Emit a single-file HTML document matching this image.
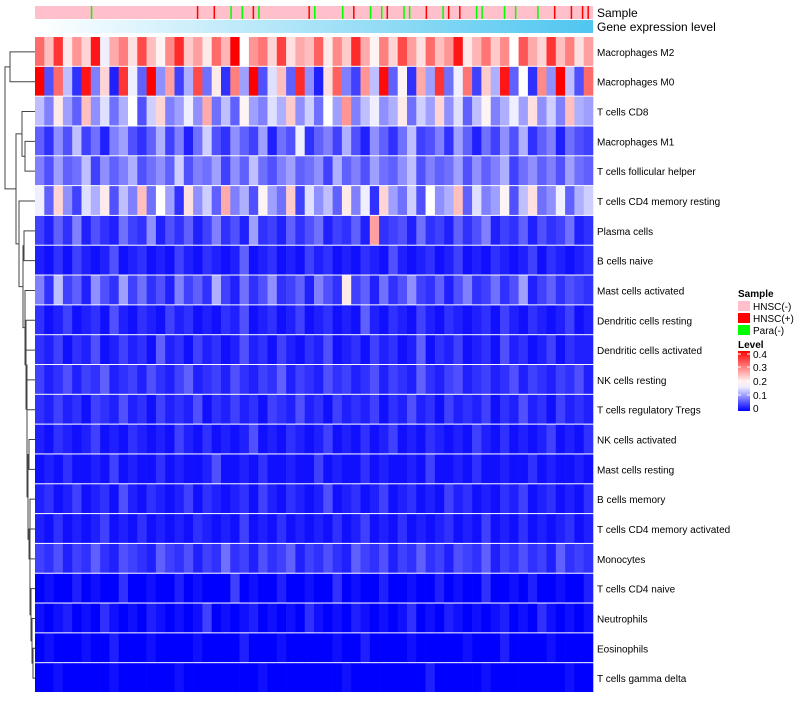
<!DOCTYPE html>
<html><head><meta charset="utf-8">
<style>
body{margin:0;background:#fff;width:800px;height:700px;overflow:hidden;font-family:"Liberation Sans",sans-serif;}
svg text{font-family:"Liberation Sans",sans-serif;}
</style></head>
<body>
<svg id="chart" width="800" height="700" xmlns="http://www.w3.org/2000/svg">
<defs>
<linearGradient id="geneGrad" x1="0" x2="1" y1="0" y2="0">
<stop offset="0" stop-color="#ffffff"/><stop offset="1" stop-color="#4fc6f0"/>
</linearGradient>
<linearGradient id="levelGrad" x1="0" x2="0" y1="1" y2="0">
<stop offset="0" stop-color="#0000ff"/><stop offset="0.4" stop-color="#eeeeff"/><stop offset="0.5" stop-color="#fff0ee"/><stop offset="1" stop-color="#ff0000"/>
</linearGradient>
</defs>
<g id="sample-bar"></g>
<rect x="35" y="20" width="558" height="13" fill="url(#geneGrad)"/>
<text x="597" y="17" font-size="12">Sample</text>
<text x="597" y="31" font-size="12">Gene expression level</text>
<g id="cells"></g>
<g id="labels"></g>
<g id="dendro" stroke="#444" stroke-width="1" fill="none"></g>
<g font-size="10">
<text x="738" y="297" font-weight="bold">Sample</text>
<rect x="738" y="301" width="12" height="10" fill="#ffc0cb"/>
<text x="753" y="310">HNSC(-)</text>
<rect x="738" y="313" width="12" height="10" fill="#ff0000"/>
<text x="753" y="322">HNSC(+)</text>
<rect x="738" y="325" width="12" height="10" fill="#00ff00"/>
<text x="753" y="334">Para(-)</text>
<text x="738" y="348" font-weight="bold">Level</text>
<rect x="738" y="351" width="12" height="60" fill="url(#levelGrad)"/>
<g stroke="#fff" stroke-width="1"><line x1="738" x2="741" y1="354" y2="354"/><line x1="747" x2="750" y1="354" y2="354"/><line x1="738" x2="741" y1="367" y2="367"/><line x1="747" x2="750" y1="367" y2="367"/><line x1="738" x2="741" y1="381" y2="381"/><line x1="747" x2="750" y1="381" y2="381"/><line x1="738" x2="741" y1="395" y2="395"/><line x1="747" x2="750" y1="395" y2="395"/></g>
<text x="753" y="358">0.4</text>
<text x="753" y="371">0.3</text>
<text x="753" y="385">0.2</text>
<text x="753" y="399">0.1</text>
<text x="753" y="412">0</text>
</g>
</svg>
<script>
const rowNames=["Macrophages M2","Macrophages M0","T cells CD8","Macrophages M1","T cells follicular helper","T cells CD4 memory resting","Plasma cells","B cells naive","Mast cells activated","Dendritic cells resting","Dendritic cells activated","NK cells resting","T cells regulatory  Tregs","NK cells activated","Mast cells resting","B cells memory","T cells CD4 memory activated","Monocytes","T cells CD4 naive","Neutrophils","Eosinophils","T cells gamma delta"];
// values in hundredths (0-40)
const r0=[30,22,35,18,26,20,38,15,24,28,19,33,22,17,27,36,21,25,18,30,23,40,16,26,29,20,34,19,24,22,31,18,27,21,36,24,17,28,20,33,25,19,30,22,26,38,18,23,29,21,27,16,32,24,20,35,22,28,19,25];
const r1=[40,5,30,12,3,38,8,20,2,35,15,6,40,9,25,4,11,33,7,18,3,28,10,40,5,14,22,6,36,9,2,19,31,8,4,26,12,39,6,17,3,24,10,35,7,15,29,4,21,11,38,6,16,3,27,9,40,12,5,30];
const r2=[12,8,18,10,6,22,9,14,7,11,16,5,13,20,8,10,15,9,24,7,12,6,17,10,8,14,11,21,9,13,7,16,10,26,8,12,15,9,11,18,7,13,10,20,9,14,6,12,17,8,11,15,10,19,9,13,8,22,11,10];
const r3=[6,3,9,5,12,4,7,2,8,10,5,3,6,11,4,8,2,7,13,5,3,9,6,4,10,2,7,5,15,3,6,8,4,11,5,2,9,6,3,7,12,4,5,8,3,10,6,2,7,4,9,5,11,3,6,8,2,7,5,4];
const r4=[8,5,10,6,7,12,4,9,6,8,11,5,7,9,6,13,5,8,7,10,4,9,6,12,7,5,8,10,6,7,9,4,11,6,8,5,10,7,6,9,12,5,8,6,7,10,5,9,6,8,11,4,7,9,6,8,5,10,7,6];
const r5=[15,6,20,9,4,14,11,18,5,12,8,22,7,16,10,3,19,9,13,6,24,8,11,5,17,10,7,21,4,14,9,12,6,18,8,15,3,20,10,7,13,5,16,9,11,22,6,14,8,10,17,5,12,19,7,9,15,6,11,13];
const r6=[4,2,6,3,8,2,5,3,2,7,4,3,9,2,5,3,6,2,4,8,3,5,2,10,3,4,2,6,3,5,7,2,4,3,6,2,25,3,4,5,2,7,3,4,2,6,3,5,8,2,4,3,6,2,5,3,4,7,2,3];
const r7=[2,1,3,1,4,2,1,2,5,1,2,3,1,2,1,4,2,1,3,2,1,2,6,1,2,3,1,2,1,4,2,3,1,2,1,3,2,1,5,2,1,2,3,1,2,4,1,2,1,3,2,1,2,4,1,3,2,1,2,3];
const r8=[8,3,12,4,6,2,9,5,3,10,4,7,3,5,2,8,4,6,3,11,4,2,7,3,5,9,3,4,6,2,8,5,3,18,4,6,2,7,3,5,9,4,3,6,2,5,8,3,4,7,3,5,10,2,4,6,3,5,4,3];
const r9=[3,1,2,4,1,2,3,1,5,2,1,3,2,1,4,2,3,1,2,1,3,2,5,1,2,3,1,2,4,1,2,3,1,2,1,6,2,1,3,2,1,4,2,1,3,2,1,2,3,1,4,2,1,3,2,1,2,4,1,2];
const r10=[3,2,4,1,3,2,5,1,2,4,2,3,1,6,2,3,1,4,2,3,1,2,5,2,3,1,4,2,1,3,2,5,1,2,3,1,4,2,3,1,2,6,1,3,2,4,1,2,3,1,5,2,3,1,2,4,1,3,2,2];
const r11=[4,2,3,5,2,4,3,6,2,3,4,2,5,3,2,4,6,2,3,4,2,5,3,2,4,3,6,2,4,3,2,5,3,4,2,3,5,2,4,3,2,6,3,2,4,5,2,3,4,2,3,5,2,4,3,2,4,3,5,2];
const r12=[3,2,4,2,3,1,4,3,2,5,2,3,1,4,2,3,2,5,1,3,2,4,2,3,1,4,3,2,5,2,3,1,4,2,3,2,4,1,3,2,5,2,3,1,4,2,3,2,4,1,3,2,5,2,3,1,4,2,3,2];
const r13=[2,1,3,2,1,2,4,1,2,1,3,2,1,2,1,4,2,1,3,1,2,1,2,5,1,2,1,3,2,1,2,4,1,2,1,3,1,2,4,1,2,1,3,2,1,2,1,4,2,1,3,1,2,1,2,4,1,2,1,3];
const r14=[1,2,1,3,1,1,2,1,4,1,2,1,1,3,1,2,1,1,2,5,1,1,2,1,3,1,1,2,1,1,4,1,2,1,1,3,1,2,1,1,2,1,4,1,1,2,1,3,1,1,2,1,1,3,1,2,1,1,2,1];
const r15=[2,3,1,2,4,1,2,3,1,5,2,1,3,2,1,2,4,1,3,2,1,2,3,1,4,2,1,3,2,1,2,5,1,2,3,1,2,4,1,2,3,1,2,1,4,2,3,1,2,1,3,2,4,1,2,3,1,2,1,3];
const r16=[2,1,3,1,2,1,2,4,1,2,1,3,1,2,1,2,1,3,2,1,2,1,4,1,2,1,3,1,2,1,2,1,3,1,2,4,1,2,1,3,1,2,1,2,3,1,2,1,4,1,2,1,3,1,2,1,2,3,1,2];
const r17=[4,3,5,2,4,3,6,3,2,5,4,3,2,6,4,3,5,2,4,3,7,3,4,2,5,3,4,6,2,4,3,5,3,2,6,4,3,5,2,4,3,6,3,4,2,5,4,3,6,2,4,3,5,3,4,2,6,3,4,3];
const r18=[0,1,0,0,2,0,1,0,0,3,0,0,1,0,0,2,0,1,0,0,0,4,0,1,0,0,2,0,0,1,0,0,3,0,1,0,0,2,0,0,1,0,0,2,0,1,0,0,3,0,0,1,0,2,0,0,1,0,0,2];
const r19=[1,0,1,2,0,1,0,3,1,0,1,0,2,1,0,1,0,1,4,0,1,0,1,2,0,1,0,1,0,3,1,0,1,0,2,1,0,1,0,1,3,0,1,0,2,1,0,1,0,1,2,0,1,0,3,1,0,1,0,1];
const r20=[0,1,0,0,0,1,0,0,2,0,0,0,1,0,0,0,0,1,0,0,0,0,2,0,0,0,1,0,0,0,0,0,1,0,0,2,0,0,0,0,1,0,0,0,0,0,1,0,0,0,2,0,0,0,0,1,0,0,0,0];
const r21=[0,0,1,0,0,0,0,0,1,0,0,0,0,0,0,1,0,0,0,0,0,0,0,0,1,0,0,0,0,0,0,0,0,1,0,0,0,0,0,0,0,0,2,0,0,0,0,0,1,0,0,0,0,0,0,0,0,1,0,0];
const rows=[r0,r1,r2,r3,r4,r5,r6,r7,r8,r9,r10,r11,r12,r13,r14,r15,r16,r17,r18,r19,r20,r21];
// sample annotation: column indices (of 100) per class
const sampleRed=[29,32,39,49,57,63,70,74,76,93,96,98,99];
const sampleGreen=[10,35,37,40,50,55,60,62,66,67,73,79,80,84,86,90];
const sampleCount=100;
// dendrogram merges: [a,b,height px from heatmap edge]; ids>=22 refer to earlier merges
const merges=[[20,21,2],[19,22,3],[18,23,4],[16,17,6],[24,25,5],[15,26,5],[13,14,6],[27,28,7],[12,29,8],[10,11,9],[30,31,8],[9,32,9],[8,33,10],[6,7,11],[34,35,12],[5,36,16],[3,4,10],[2,38,13],[37,39,19],[0,1,25],[40,41,30]];

const svg=document.getElementById('chart');
const NS='http://www.w3.org/2000/svg';
const X0=35,X1=593,Y0=37,Y1=693,nR=rows.length,rowH=(Y1-Y0)/nR;
function colorOf(v){ // v in 0..0.4
  v=Math.max(0,Math.min(0.4,v));
  const mid=0.16;
  if(v<=mid){const t=v/mid;return `rgb(${Math.round(255*t)},${Math.round(255*t)},255)`;}
  const t=(v-mid)/(0.4-mid);return `rgb(255,${Math.round(255*(1-t))},${Math.round(255*(1-t))})`;
}
function xScale(i,n){return X0+(X1-X0)*i/n;}
function yScale(r){return Y0+rowH*r;}
const cells=document.getElementById('cells');
rows.forEach((arr,r)=>{
  arr.forEach((v,c)=>{
    const rc=document.createElementNS(NS,'rect');
    
    
    const x=xScale(c,arr.length);
    rc.setAttribute('x',x);rc.setAttribute('y',yScale(r));
    rc.setAttribute('width',xScale(c+1,arr.length)-x+0.3);rc.setAttribute('height',rowH-1);
    rc.setAttribute('fill',colorOf(v/100));
    cells.appendChild(rc);
  });
});
const lab=document.getElementById('labels');
rowNames.forEach((n,r)=>{
  const t=document.createElementNS(NS,'text');
  
  
  t.setAttribute('x',597);t.setAttribute('y',yScale(r)+rowH/2+4);
  t.setAttribute('font-size','10');t.textContent=n;lab.appendChild(t);
});
const sb=document.getElementById('sample-bar');
const bg=document.createElementNS(NS,'rect');


bg.setAttribute('x',X0);bg.setAttribute('y',6);bg.setAttribute('width',X1-X0);bg.setAttribute('height',13);bg.setAttribute('fill','#ffc0cb');sb.appendChild(bg);
[[sampleRed,'#ff0000'],[sampleGreen,'#00ff00']].forEach(([arr,col])=>arr.forEach(i=>{
  const m=document.createElementNS(NS,'rect');
  
  
  m.setAttribute('x',xScale(i,sampleCount));m.setAttribute('y',6);m.setAttribute('width',1.5);m.setAttribute('height',13);m.setAttribute('fill',col);sb.appendChild(m);
}));
// dendrogram
const pos={};for(let i=0;i<nR;i++)pos[i]={y:yScale(i)+rowH/2,h:0};
const dg=document.getElementById('dendro');
merges.forEach(([a,b,h],k)=>{
  const A=pos[a],B=pos[b],x=X0-h;
  const p=document.createElementNS(NS,'path');
  
  
  p.setAttribute('d',`M${X0-A.h},${A.y}H${x}V${B.y}H${X0-B.h}`);
  dg.appendChild(p);
  pos[nR+k]={y:(A.y+B.y)/2,h:h};
});
</script>
</body></html>
